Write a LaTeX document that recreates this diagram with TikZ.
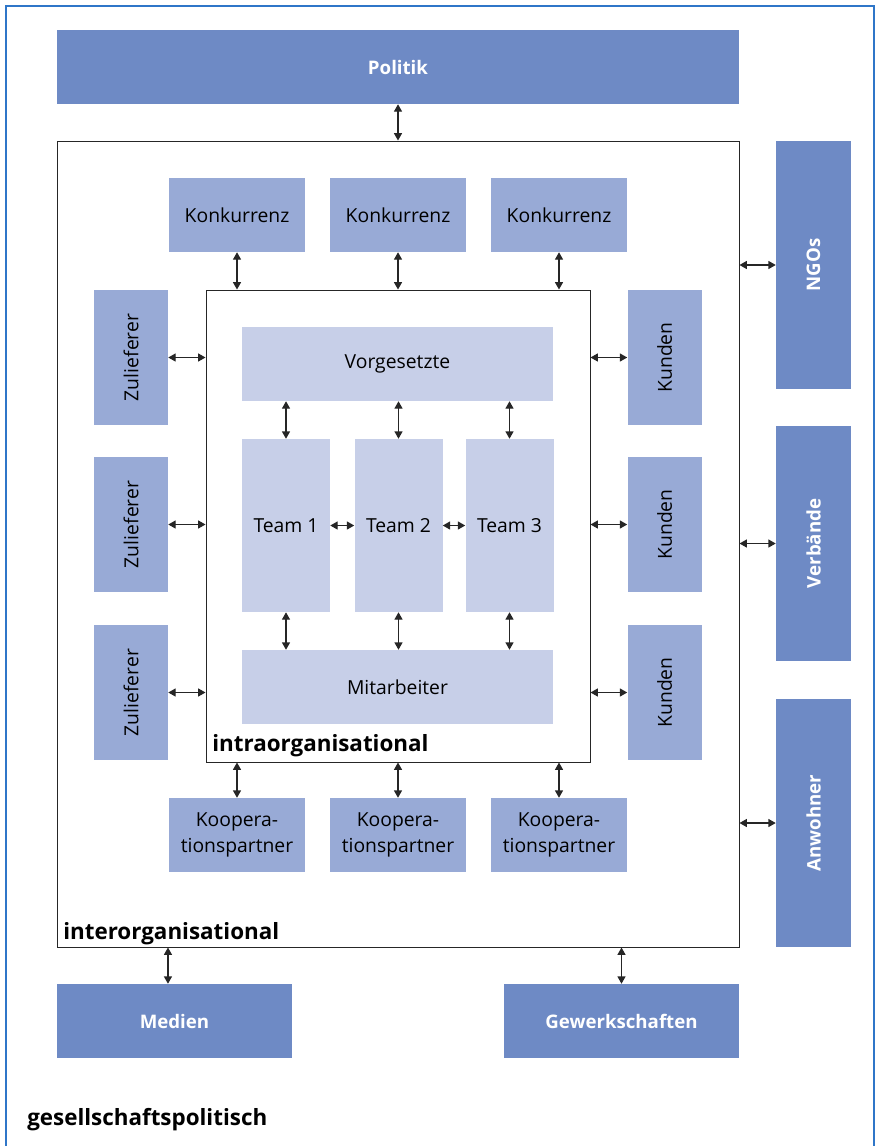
\documentclass[tikz,border=0pt]{standalone}
\usepackage{fontspec}
\setmainfont{Open Sans}
\usetikzlibrary{arrows.meta,positioning}

\definecolor{dunkelblau}{HTML}{6E8AC5}
\definecolor{mittelblau}{HTML}{98AAD6}
\definecolor{hellblau}{HTML}{C7CFE8}
\definecolor{rahmenblau}{HTML}{2F76C8}

\begin{document}
\begin{tikzpicture}[x=0.75pt,y=-0.75pt,
  aussen/.style={fill=dunkelblau,text=white,inner sep=0pt,font=\bfseries\fontsize{14}{16}\selectfont},
  mittel/.style={fill=mittelblau,inner sep=0pt,align=center,font=\fontsize{14.5}{19.5}\selectfont},
  innen/.style={fill=hellblau,inner sep=0pt,font=\fontsize{14.5}{19.5}\selectfont},
  ebene/.style={draw=black!85,line width=0.75pt,inner sep=0pt},
  titel/.style={inner sep=0pt,anchor=base west,font=\bfseries\fontsize{16.8}{19}\selectfont},
  pfeil/.style={{Triangle[length=5.5pt,width=6pt]}-{Triangle[length=5.5pt,width=6pt]},line width=0.9pt,black!85}]
\useasboundingbox (0,0) rectangle (875,1146);
\draw[rahmenblau,line width=1.2pt] (6,1146) -- (6,6) -- (874,6) -- (874,1146);

% gesellschaftspolitisch
\node[aussen,minimum width=511.5pt,minimum height=55.5pt] (politik) at (398,67) {Politik};
\node[aussen,minimum width=56.25pt,minimum height=186pt] (ngos) at (813.5,265) {\rotatebox{90}{NGOs}};
\node[aussen,minimum width=56.25pt,minimum height=176.25pt] (verbaende) at (813.5,543.5) {\rotatebox{90}{Verbände}};
\node[aussen,minimum width=56.25pt,minimum height=186pt] (anwohner) at (813.5,823) {\rotatebox{90}{Anwohner}};
\node[aussen,minimum width=176.25pt,minimum height=55.5pt] (medien) at (174.5,1021) {Medien};
\node[aussen,minimum width=176.25pt,minimum height=55.5pt] (gewerkschaften) at (621.5,1021) {Gewerkschaften};
\node[titel] (gesell) at (27,1125) {gesellschaftspolitisch};

% interorganisational
\node[ebene,minimum width=511.5pt,minimum height=604.5pt] (inter) at (398,544) {};
\node[titel] (intertitel) at (63,939) {interorganisational};
\foreach \x/\n in {237/1,398/2,559/3}{
  \node[mittel,minimum width=102pt,minimum height=55.5pt] (konk\n) at (\x,215) {Konkurrenz};
  \node[mittel,minimum width=102pt,minimum height=55.5pt] (koop\n) at (\x,835) {Koopera-\\tionspartner};
}
\foreach \y/\n in {357.5/1,524.5/2,692.5/3}{
  \node[mittel,minimum width=55.5pt,minimum height=101.25pt] (zul\n) at (131,\y) {\rotatebox{90}{Zulieferer}};
  \node[mittel,minimum width=55.5pt,minimum height=101.25pt] (kund\n) at (664.5,\y) {\rotatebox{90}{Kunden}};
}

% intraorganisational
\node[ebene,minimum width=288pt,minimum height=354pt] (intra) at (398,526) {};
\node[titel] (intratitel) at (212,751) {intraorganisational};
\node[innen,minimum width=233.25pt,minimum height=55.5pt] (vorg) at (397.5,364) {Vorgesetzte};
\node[innen,minimum width=233.25pt,minimum height=55.5pt] (mitarb) at (397.5,687) {Mitarbeiter};
\foreach \x/\n in {286/1,398.5/2,509.5/3}
  \node[innen,minimum width=66pt,minimum height=129.75pt] (team\n) at (\x,525.5) {Team \n};

% Pfeile
\draw[pfeil] (politik) -- (politik |- inter.north);
\draw[pfeil] ([xshift=-4.9pt]medien.north) -- ([xshift=-4.9pt]medien.north |- inter.south);
\draw[pfeil] (gewerkschaften) -- (gewerkschaften |- inter.south);
\foreach \n in {ngos,verbaende,anwohner}
  \draw[pfeil] (\n.west) -- (\n.west -| inter.east);
\foreach \n in {1,2,3}{
  \draw[pfeil] (konk\n) -- (konk\n |- intra.north);
  \draw[pfeil] (koop\n) -- (koop\n |- intra.south);
  \draw[pfeil] (zul\n) -- (zul\n -| intra.west);
  \draw[pfeil] (kund\n) -- (kund\n -| intra.east);
  \draw[pfeil] (team\n) -- (team\n |- vorg.south);
  \draw[pfeil] (team\n) -- (team\n |- mitarb.north);
}
\draw[pfeil] (team1) -- (team2);
\draw[pfeil] (team2) -- (team3);
\end{tikzpicture}
\end{document}
